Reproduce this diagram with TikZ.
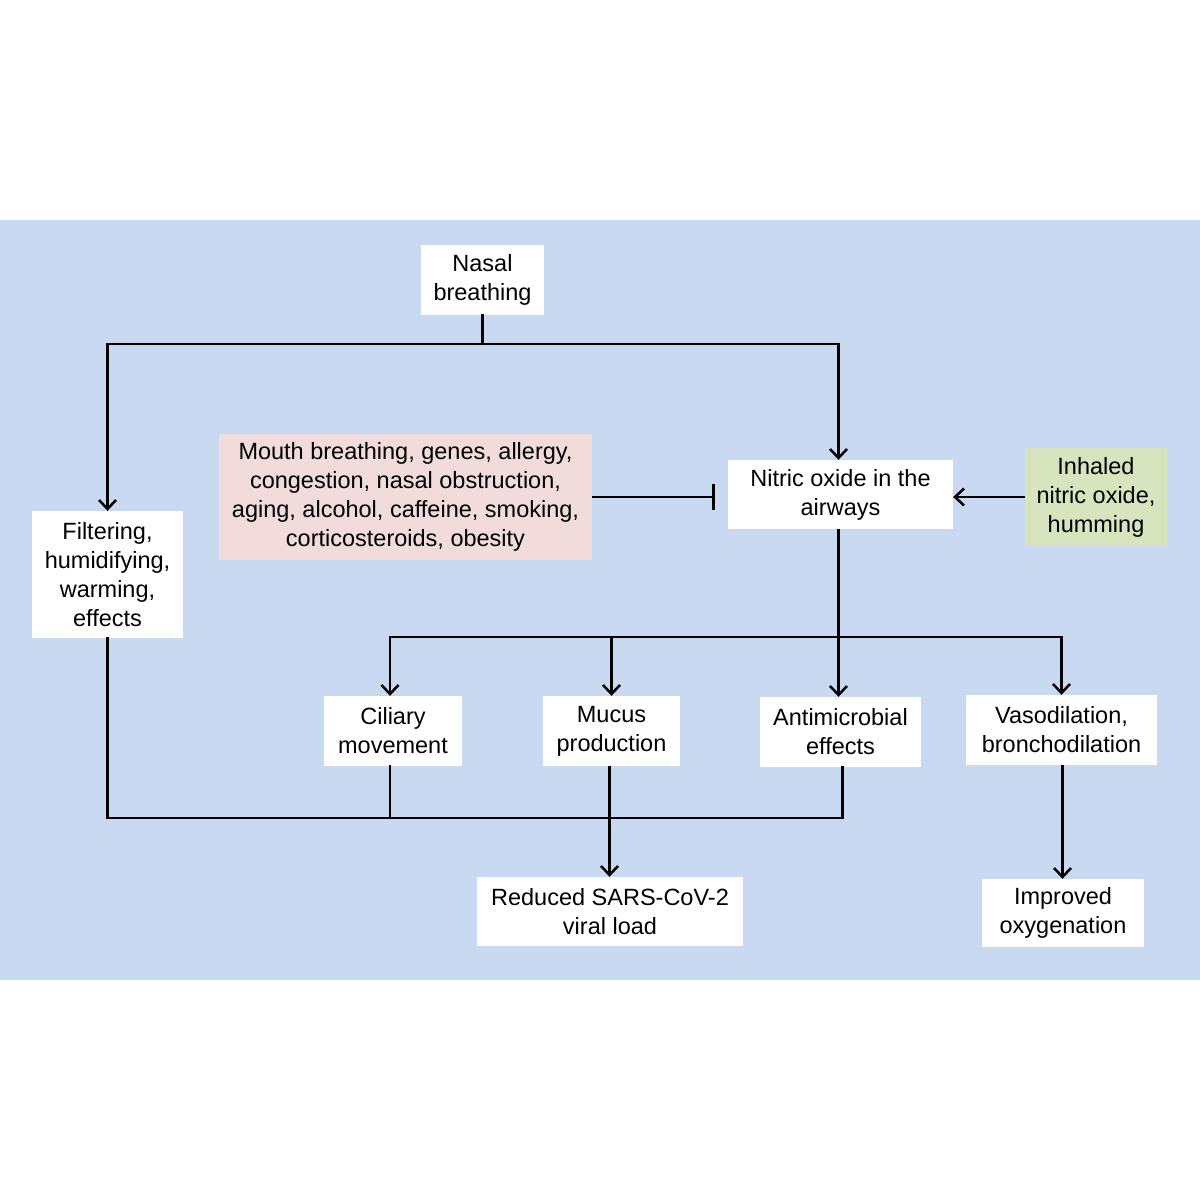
\documentclass[tikz,border=0pt]{standalone}
\usepackage{fontspec}
\setmainfont{Liberation Sans}
\usetikzlibrary{arrows.meta}
\definecolor{bgblue}{RGB}{201,217,242}
\definecolor{pinkbox}{RGB}{242,220,219}
\definecolor{greenbox}{RGB}{215,228,189}
\begin{document}
\begin{tikzpicture}[x=1pt,y=-1pt,
  box/.style={fill=white, inner sep=0pt, align=center, font=\fontsize{23.5}{29}\selectfont},
  conn/.style={line width=2.5pt, line cap=rect},
  arr/.style={conn, line cap=butt, -{Straight Barb[length=9pt,width=17pt,line width=2.5pt]}},
  inh/.style={conn, line cap=butt, -{Bar[width=26pt,line width=2.5pt]}}]
\useasboundingbox (0,0) rectangle (1200,1200);
\fill[bgblue] (0,220) rectangle (1200,980);

\node[box, minimum width=123pt, minimum height=70pt] (nasal) at (482.5,280) {Nasal\\breathing};
\node[box, minimum width=151pt, minimum height=127pt] (filter) at (107.5,574.5) {Filtering,\\humidifying,\\warming,\\effects};
\node[box, fill=pinkbox, minimum width=373pt, minimum height=126pt] (mouth) at (405.5,497) {Mouth breathing, genes, allergy,\\congestion, nasal obstruction,\\aging, alcohol, caffeine, smoking,\\corticosteroids, obesity};
\node[box, minimum width=225pt, minimum height=69pt] (no) at (840.5,494.5) {Nitric oxide in the\\airways};
\node[box, fill=greenbox, minimum width=142pt, minimum height=98pt] (inhal) at (1096,497) {Inhaled\\nitric oxide,\\humming};
\node[box, minimum width=138pt, minimum height=70pt] (cil) at (393,731) {Ciliary\\movement};
\node[box, minimum width=137pt, minimum height=70pt] (muc) at (611.5,731) {Mucus\\production};
\node[box, minimum width=161pt, minimum height=70pt] (anti) at (840.5,732) {Antimicrobial\\effects};
\node[box, minimum width=191pt, minimum height=70pt] (vaso) at (1061.5,730) {Vasodilation,\\bronchodilation};
\node[box, minimum width=266pt, minimum height=69pt] (red) at (610,911.5) {Reduced SARS-CoV-2\\viral load};
\node[box, minimum width=162pt, minimum height=68pt] (imp) at (1063,913) {Improved\\oxygenation};

\coordinate (t) at (482.5,344);
\coordinate (m) at (838,637);
\coordinate (b) at (0,818);

\draw[conn] (nasal.south) -- (t);
\draw[arr] (t) -| (filter.north);
\draw[arr] (t) -| ([xshift=-2pt]no.north);

\draw[inh, shorten >=13pt] (mouth.east) -- (mouth.east -| no.west);
\draw[arr] (inhal.west) -- (inhal.west -| no.east);

\draw[arr] ([xshift=-2pt]no.south) -- ([xshift=-2pt]anti.north);
\draw[arr] (m) -| ([xshift=-3pt]cil.north);
\draw[arr] (m) -| (muc.north);
\draw[arr] (m) -| (vaso.north);

\draw[conn] (filter.south) |- ([xshift=2pt]anti.south |- b) -- ([xshift=2pt]anti.south);
\draw[conn] ([xshift=-3pt]cil.south) -- ([xshift=-3pt]cil.south |- b);
\draw[arr] ([xshift=-2pt]muc.south) -- ([xshift=-2pt]muc.south |- red.north);
\draw[arr] ([xshift=1pt]vaso.south) -- ([xshift=1pt]vaso.south |- imp.north);
\end{tikzpicture}
\end{document}
